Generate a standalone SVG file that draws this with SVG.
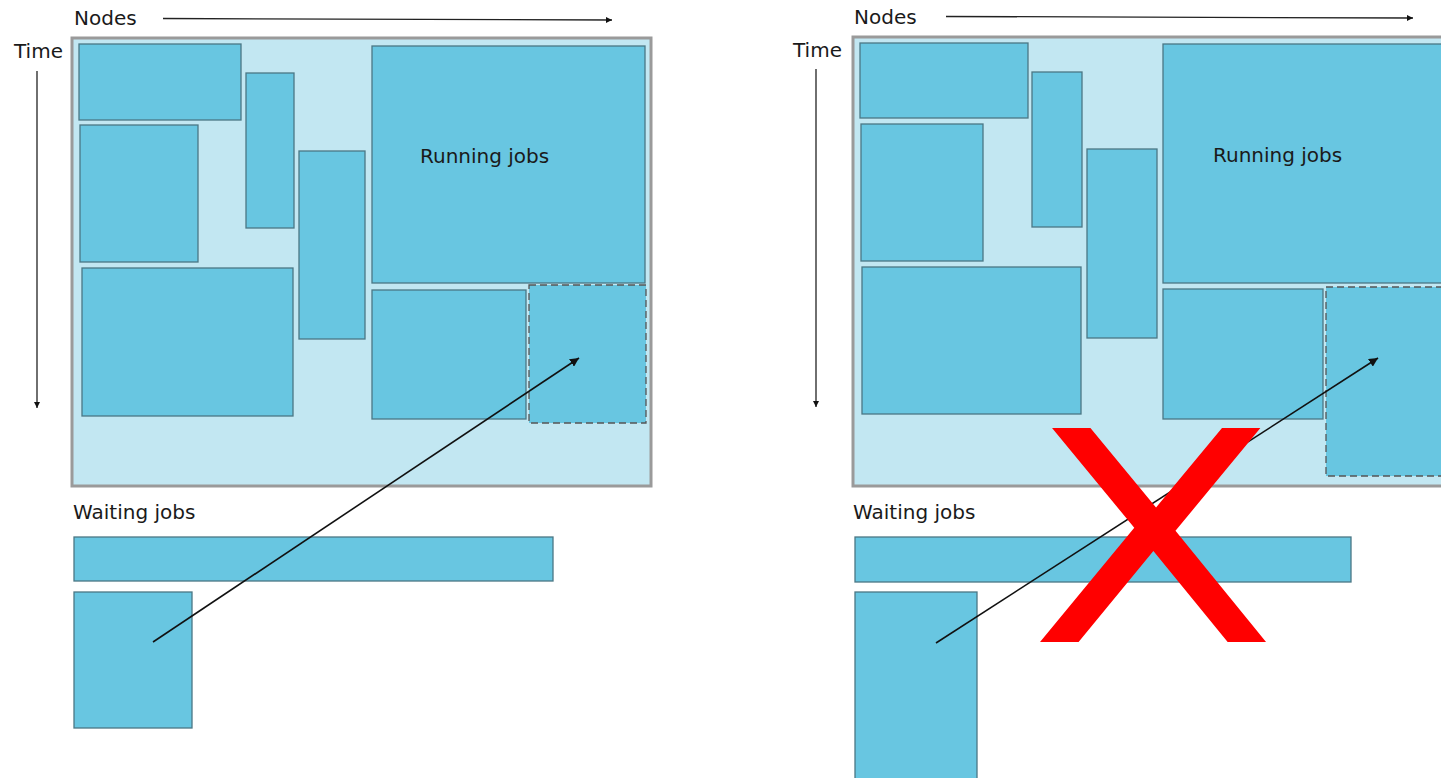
<svg xmlns="http://www.w3.org/2000/svg" width="1441" height="778" viewBox="0 0 1441 778">
<style>
  .frame { fill: #c2e7f2; stroke: #9a9a9a; stroke-width: 3; }
  .job { fill: #68c6e1; stroke: #4b7784; stroke-width: 1.3; }
  .jobd { fill: #68c6e1; stroke: #555; stroke-width: 1.3; stroke-dasharray: 7 4; }
  .lbl { font-family: "DejaVu Sans", sans-serif; font-size: 20px; fill: #1a1a1a; }
  .ax { stroke: #222; stroke-width: 1.3; fill: none; }
  .mv { stroke: #111; stroke-width: 1.6; fill: none; }
  .cross { font-family: "DejaVu Sans", sans-serif; font-size: 293.5px; fill: #ff0000; }
</style>
<defs>
  <marker id="ah" viewBox="0 0 10 10" refX="10" refY="5" markerWidth="6" markerHeight="6" markerUnits="userSpaceOnUse" orient="auto">
    <path d="M0,0 L10,5 L0,10 z" fill="#111"/>
  </marker>
  <marker id="ah2" viewBox="0 0 10 10" refX="10" refY="5" markerWidth="9" markerHeight="9" markerUnits="userSpaceOnUse" orient="auto">
    <path d="M0,0 L10,5 L0,10 z" fill="#111"/>
  </marker>
</defs>

<!-- LEFT PANEL -->
<g id="left-panel">
  <text class="lbl" x="74" y="25">Nodes</text>
  <text class="lbl" x="14" y="58">Time</text>
  <rect id="L-frame" class="frame" x="72" y="38" width="579" height="448"/>
  <g id="L-job1"><rect class="job" x="79" y="44" width="162" height="76"/></g>
  <g id="L-job2"><rect class="job" x="246" y="73" width="48" height="155"/></g>
  <g id="L-job3"><rect class="job" x="80" y="125" width="118" height="137"/></g>
  <g id="L-job4"><rect class="job" x="82" y="268" width="211" height="148"/></g>
  <g id="L-job5"><rect class="job" x="299" y="151" width="66" height="188"/></g>
  <g id="L-running"><rect class="job" x="372" y="46" width="273" height="237"/>
    <text class="lbl" x="420" y="163">Running jobs</text></g>
  <g id="L-job7"><rect class="job" x="372" y="290" width="154" height="129"/></g>
  <g id="L-target"><rect class="jobd" x="529" y="285" width="117" height="138"/></g>
  <text class="lbl" x="73" y="519">Waiting jobs</text>
  <g id="L-wait1"><rect class="job" x="74" y="537" width="479" height="44"/></g>
  <g id="L-wait2"><rect class="job" x="74" y="592" width="118" height="136"/></g>
</g>

<!-- RIGHT PANEL -->
<g id="right-panel">
  <text class="lbl" x="854" y="24">Nodes</text>
  <text class="lbl" x="793" y="57">Time</text>
  <rect id="R-frame" class="frame" x="853" y="37" width="600" height="449"/>
  <g id="R-job1"><rect class="job" x="860" y="43" width="168" height="75"/></g>
  <g id="R-job2"><rect class="job" x="1032" y="72" width="50" height="155"/></g>
  <g id="R-job3"><rect class="job" x="861" y="124" width="122" height="137"/></g>
  <g id="R-job4"><rect class="job" x="862" y="267" width="219" height="147"/></g>
  <g id="R-job5"><rect class="job" x="1087" y="149" width="70" height="189"/></g>
  <g id="R-running"><rect class="job" x="1163" y="44" width="290" height="239"/>
    <text class="lbl" x="1213" y="162">Running jobs</text></g>
  <g id="R-job7"><rect class="job" x="1163" y="289" width="160" height="130"/></g>
  <g id="R-target"><rect class="jobd" x="1326" y="287" width="130" height="189"/></g>
  <text class="lbl" x="853" y="519">Waiting jobs</text>
  <g id="R-wait1"><rect class="job" x="855" y="537" width="496" height="45"/></g>
  <g id="R-wait2"><rect class="job" x="855" y="592" width="122" height="200"/></g>
</g>

<!-- CONNECTORS -->
<g id="connectors">
  <line class="ax" x1="163" y1="18.5" x2="612" y2="20" marker-end="url(#ah)"/>
  <line class="ax" x1="37" y1="71" x2="37" y2="408" marker-end="url(#ah)"/>
  <line class="mv" x1="153" y1="642" x2="579" y2="358" marker-end="url(#ah2)"/>
  <line class="ax" x1="946" y1="16.5" x2="1413" y2="18" marker-end="url(#ah)"/>
  <line class="ax" x1="816" y1="69" x2="816" y2="407" marker-end="url(#ah)"/>
  <line class="mv" x1="936" y1="643" x2="1378" y2="358" marker-end="url(#ah2)"/>
</g>

<g transform="translate(1153,642) scale(1.234,1)">
  <text class="cross" x="-100.3" y="0">X</text>
</g>
</svg>
